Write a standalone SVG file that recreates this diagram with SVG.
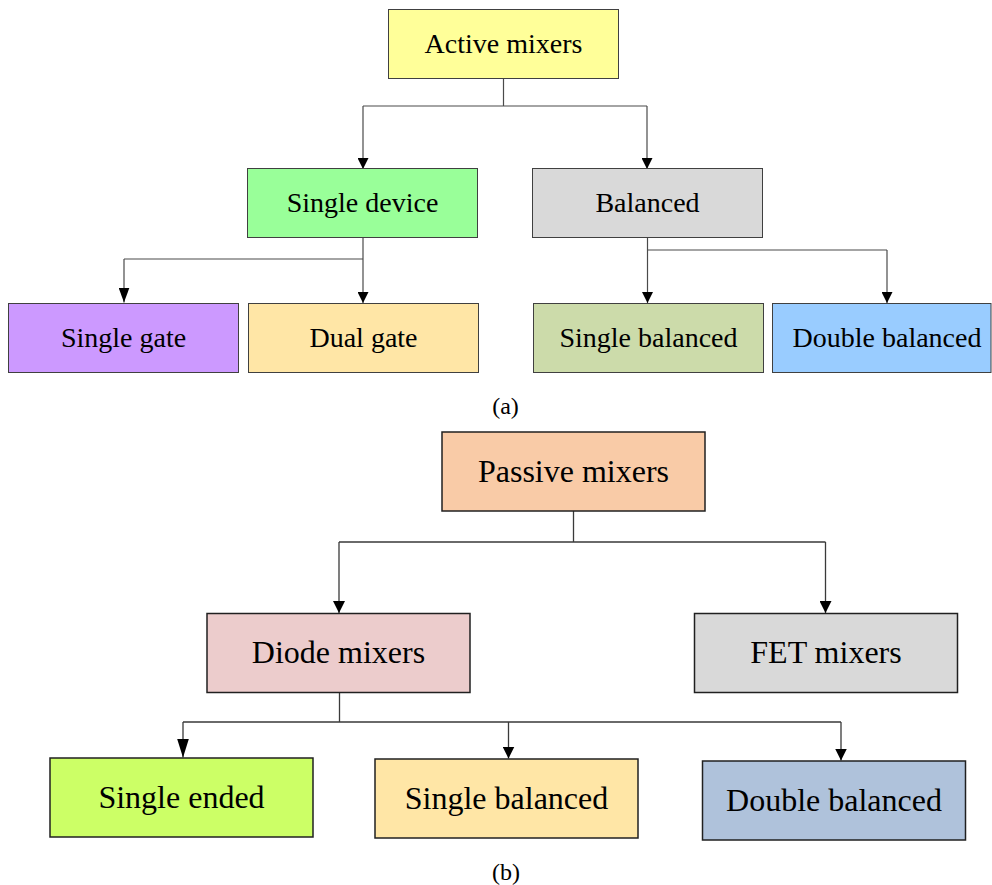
<svg xmlns="http://www.w3.org/2000/svg" width="992" height="885" viewBox="0 0 992 885">
<defs>
<style>
.box{stroke:#404040;stroke-width:1}
.boxb{stroke:#202020;stroke-width:1.5}
.t{font-family:"Liberation Serif","Times New Roman",serif;font-size:28px;fill:#000;text-anchor:middle}
.tb{font-family:"Liberation Serif","Times New Roman",serif;font-size:32px;fill:#000;text-anchor:middle}
.cap{font-family:"Liberation Serif","Times New Roman",serif;font-size:24px;fill:#000;text-anchor:middle}
.ln{fill:none;stroke:#4a4a4a;stroke-width:1.2}
.lnb{fill:none;stroke:#3a3a3a;stroke-width:1.3}
</style>
<marker id="as" markerUnits="userSpaceOnUse" markerWidth="11" markerHeight="11" viewBox="0 0 11 11" refX="11" refY="5.5" orient="auto">
<path d="M0,0 L11,5.5 L0,11 Z" fill="#000"/>
</marker>
<marker id="al" markerUnits="userSpaceOnUse" markerWidth="15" markerHeight="11" viewBox="0 0 15 11" refX="15" refY="5.5" orient="auto">
<path d="M0,0 L15,5.5 L0,11 Z" fill="#000"/>
</marker>
<marker id="bs" markerUnits="userSpaceOnUse" markerWidth="12" markerHeight="12" viewBox="0 0 12 12" refX="12" refY="6" orient="auto">
<path d="M0,0 L12,6 L0,12 Z" fill="#000"/>
</marker>
<marker id="bl" markerUnits="userSpaceOnUse" markerWidth="19" markerHeight="12" viewBox="0 0 19 12" refX="19" refY="6" orient="auto">
<path d="M0,0 L19,6 L0,12 Z" fill="#000"/>
</marker>
</defs>
<g id="connectors">
<!-- top (a) -->
<path class="ln" d="M503.5,79 V106 M363,106 H647"/>
<path class="ln" d="M363,106 V169" marker-end="url(#as)"/>
<path class="ln" d="M647,106 V169" marker-end="url(#as)"/>
<path class="ln" d="M124,259 H363"/>
<path class="ln" d="M363,238 V303" marker-end="url(#as)"/>
<path class="ln" d="M124,259 V302.5" marker-end="url(#al)"/>
<path class="ln" d="M647.5,250 H887"/>
<path class="ln" d="M647.5,238 V303" marker-end="url(#as)"/>
<path class="ln" d="M887,250 V303" marker-end="url(#as)"/>
<!-- bottom (b) -->
<path class="lnb" d="M573.5,511 V542 M339,542 H825.5"/>
<path class="lnb" d="M339,542 V613" marker-end="url(#bs)"/>
<path class="lnb" d="M825.5,542 V613" marker-end="url(#bs)"/>
<path class="lnb" d="M339.5,693 V722 M183,722 H841"/>
<path class="lnb" d="M183,722 V757.5" marker-end="url(#bl)"/>
<path class="lnb" d="M508.5,722 V758.5" marker-end="url(#bs)"/>
<path class="lnb" d="M841,722 V760.5" marker-end="url(#bs)"/>
</g>
<g id="n-active"><rect class="box" x="388.5" y="9.5" width="230" height="69" fill="#FFFF99"/><text class="t" x="503.5" y="53">Active mixers</text></g>
<g id="n-single-device"><rect class="box" x="247.5" y="168.5" width="230" height="69" fill="#99FF99"/><text class="t" x="362.5" y="212">Single device</text></g>
<g id="n-balanced"><rect class="box" x="532.5" y="168.5" width="230" height="69" fill="#D9D9D9"/><text class="t" x="647.5" y="212">Balanced</text></g>
<g id="n-single-gate"><rect class="box" x="8.5" y="303.5" width="230" height="69" fill="#CC99FF"/><text class="t" x="123.5" y="347">Single gate</text></g>
<g id="n-dual-gate"><rect class="box" x="248.5" y="303.5" width="230" height="69" fill="#FFE6A6"/><text class="t" x="363.5" y="347">Dual gate</text></g>
<g id="n-single-balanced-a"><rect class="box" x="533.5" y="303.5" width="230" height="69" fill="#CCDBAA"/><text class="t" x="648.5" y="347">Single balanced</text></g>
<g id="n-double-balanced-a"><rect class="box" x="772.5" y="303.5" width="218.5" height="69" fill="#99CCFF"/><text class="t" x="887" y="347">Double balanced</text></g>
<text class="cap" x="505.5" y="414">(a)</text>
<g id="n-passive"><rect class="boxb" x="442" y="432" width="263" height="79" fill="#F9CBA7"/><text class="tb" x="573.5" y="482">Passive mixers</text></g>
<g id="n-diode"><rect class="boxb" x="207" y="613.5" width="263" height="79" fill="#ECCCCC"/><text class="tb" x="338.5" y="663">Diode mixers</text></g>
<g id="n-fet"><rect class="boxb" x="694.5" y="613.5" width="263" height="79" fill="#D9D9D9"/><text class="tb" x="826" y="663">FET mixers</text></g>
<g id="n-single-ended"><rect class="boxb" x="50" y="758" width="263" height="79" fill="#CCFF66"/><text class="tb" x="181.5" y="808">Single ended</text></g>
<g id="n-single-balanced-b"><rect class="boxb" x="375" y="759" width="263" height="79" fill="#FFE6A6"/><text class="tb" x="506.5" y="809">Single balanced</text></g>
<g id="n-double-balanced-b"><rect class="boxb" x="702.5" y="761" width="263" height="79" fill="#AFC2DB"/><text class="tb" x="834" y="811">Double balanced</text></g>
<text class="cap" x="506" y="880">(b)</text>
</svg>
